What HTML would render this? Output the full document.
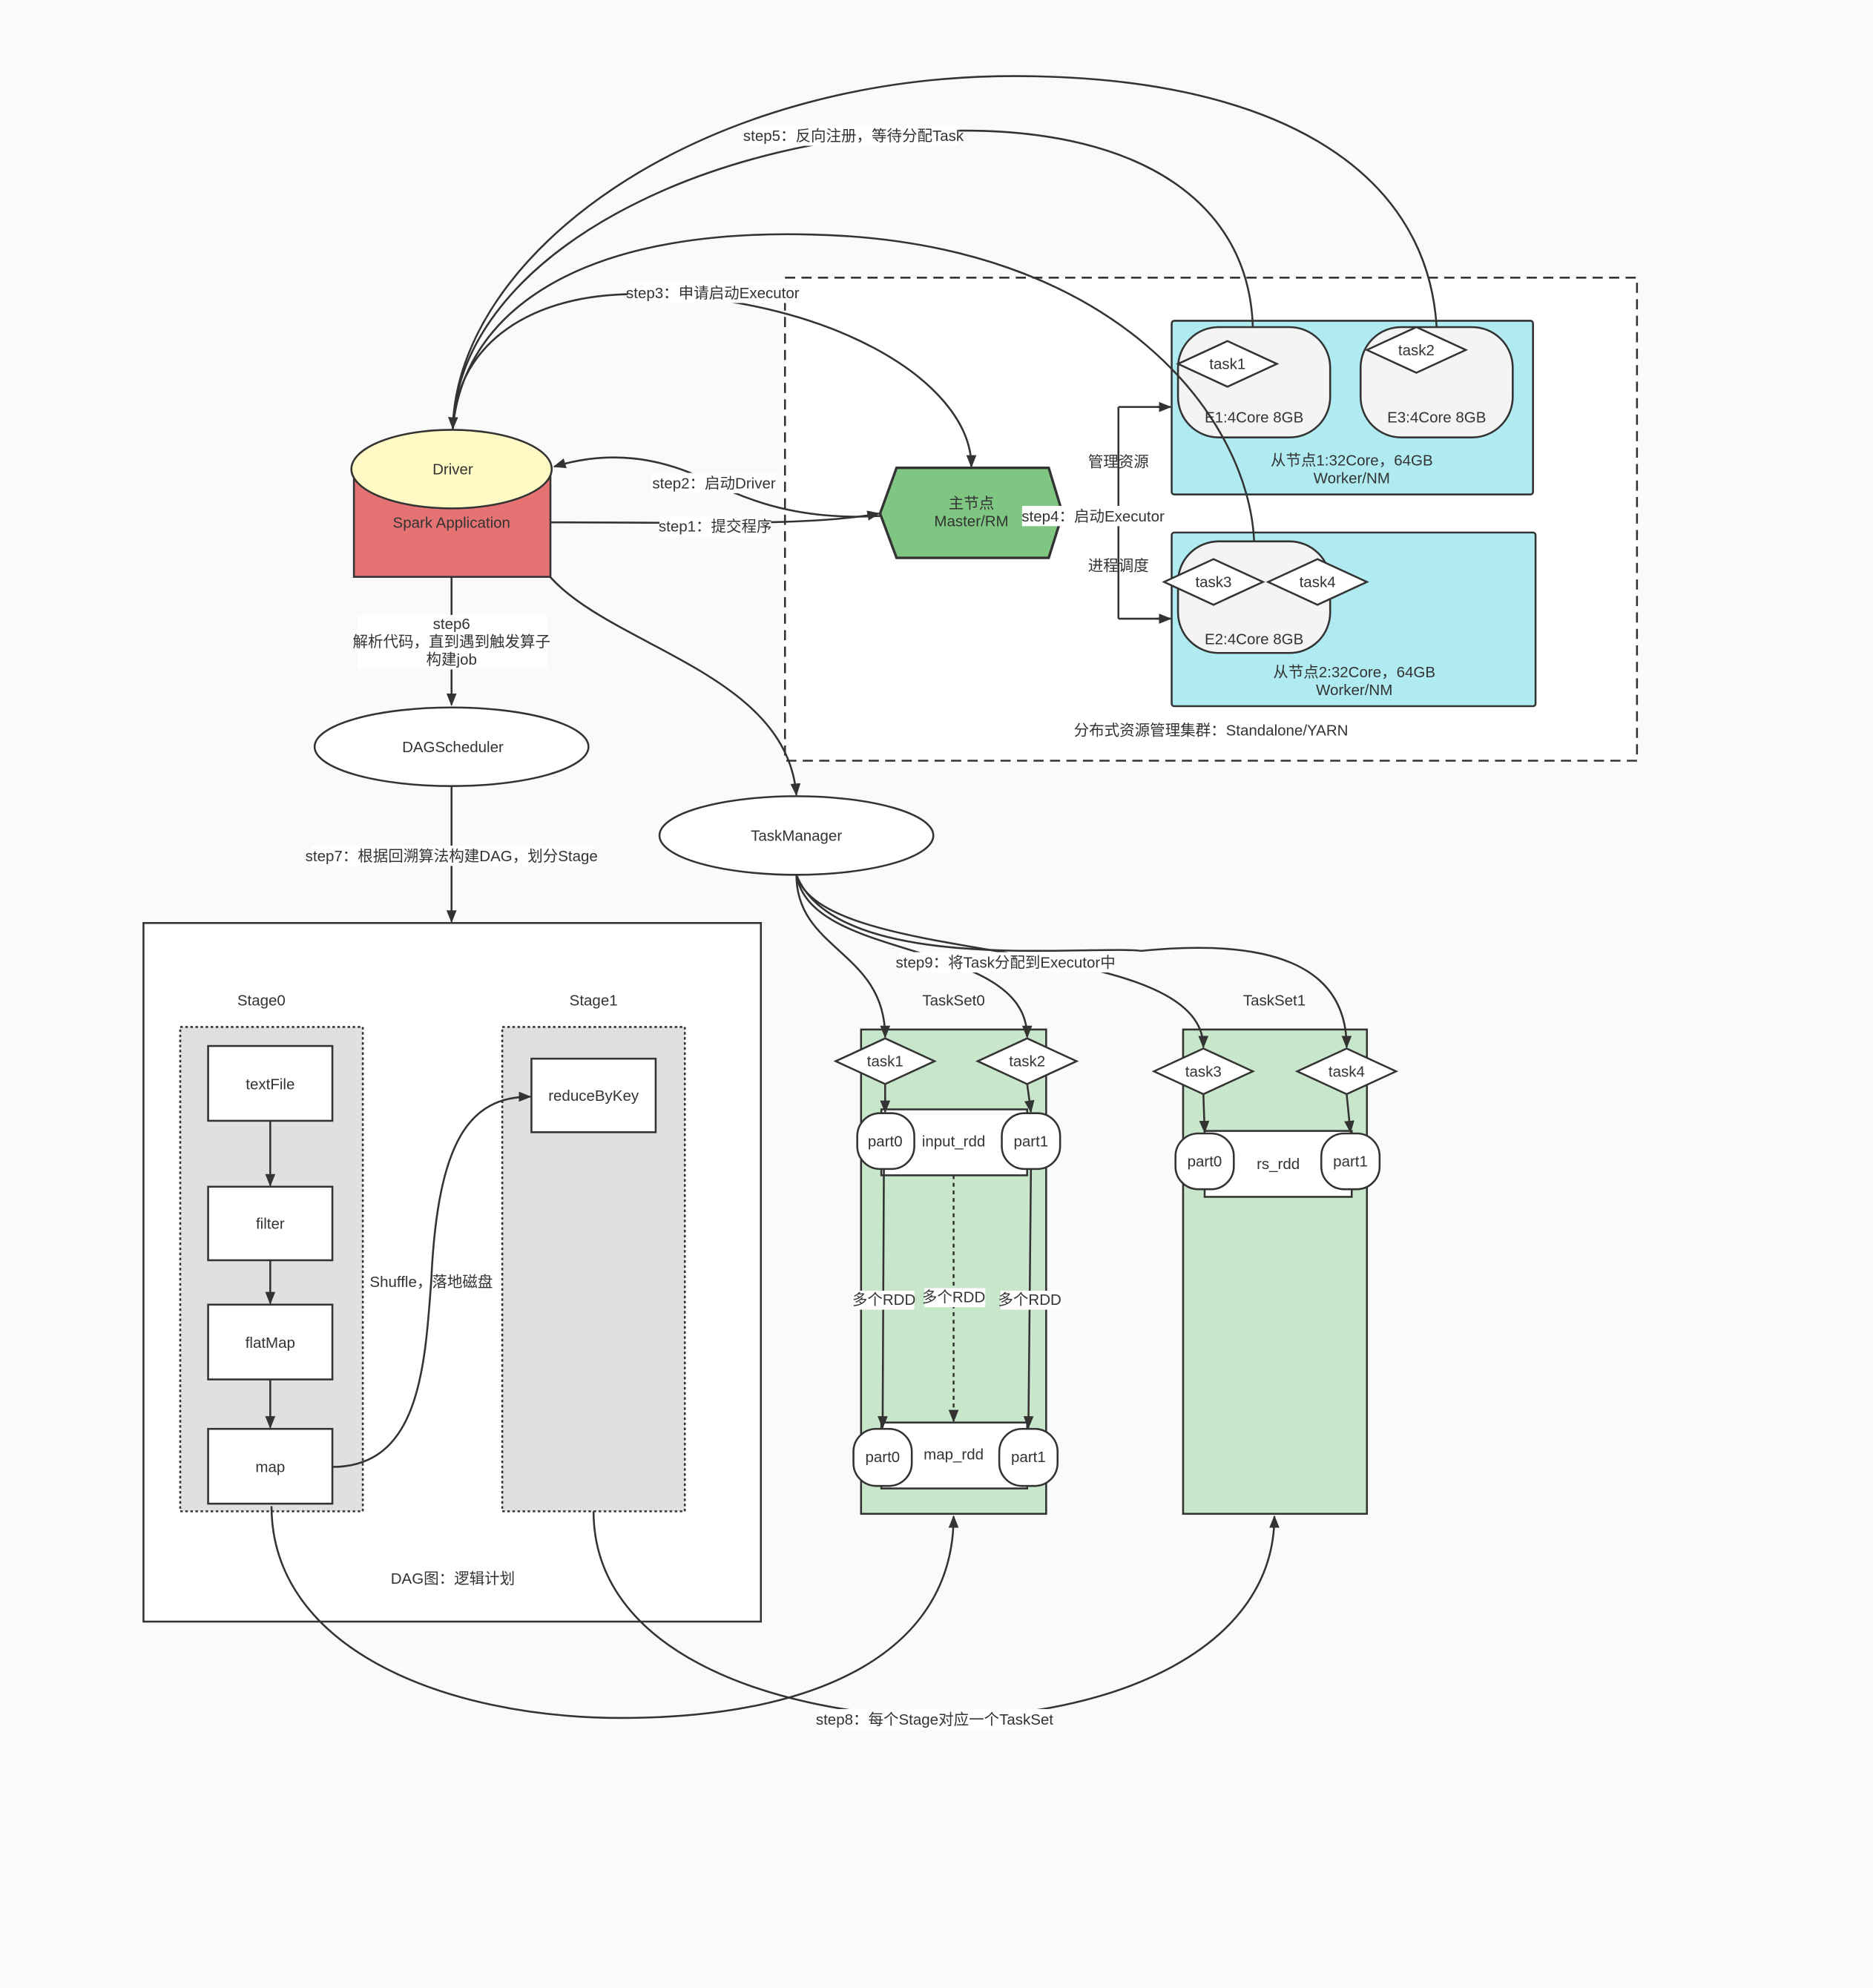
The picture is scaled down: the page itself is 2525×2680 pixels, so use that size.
<!DOCTYPE html>
<html><head><meta charset="utf-8"><style>html,body{margin:0;padding:0;background:#fafafa}svg{display:block}text{font-family:"Liberation Sans","Noto Sans CJK SC",sans-serif;font-size:12px;fill:#333;text-anchor:middle;dominant-baseline:middle}</style></head><body>
<svg width="2525" height="2680" viewBox="0 0 1477 1568" xmlns="http://www.w3.org/2000/svg">
<defs><marker id="a" markerWidth="10" markerHeight="10" refX="9" refY="5" orient="auto" markerUnits="userSpaceOnUse"><path d="M0,1 L10,5 L0,9 Z" fill="#333"/></marker></defs>
<rect width="1477" height="1568" fill="#fafafa"/>
<rect x="619" y="219" width="672" height="381" fill="#fff" stroke="#333" stroke-width="1.5" stroke-dasharray="8,5"/>
<rect x="924" y="253" width="285" height="137" rx="2" fill="#b0ebf2" stroke="#333" stroke-width="1.5"/>
<rect x="924" y="420" width="287" height="137" rx="2" fill="#b0ebf2" stroke="#333" stroke-width="1.5"/>
<rect x="929" y="258" width="120" height="87" rx="32" fill="#f4f4f4" stroke="#333" stroke-width="1.5"/>
<rect x="1073" y="258" width="120" height="87" rx="32" fill="#f4f4f4" stroke="#333" stroke-width="1.5"/>
<rect x="929" y="427" width="120" height="88" rx="32" fill="#f4f4f4" stroke="#333" stroke-width="1.5"/>
<text x="989" y="330">E1:4Core 8GB</text><text x="1133" y="330">E3:4Core 8GB</text><text x="989" y="505">E2:4Core 8GB</text>
<text x="1066" y="364">从节点1:32Core，64GB</text><text x="1066" y="378">Worker/NM</text>
<text x="1068" y="531">从节点2:32Core，64GB</text><text x="1068" y="545">Worker/NM</text>
<text x="955" y="577">分布式资源管理集群：Standalone/YARN</text>
<g fill="none" stroke="#333" stroke-width="1.5">
<path d="M1133,258 C1125,130 1000,60 800,60 C550,60 360,200 357,338" marker-end="url(#a)"/>
<path d="M988,258 C985,160 900,103 760,103 C560,103 362,200 357,338"/>
<path d="M989,427 C985,330 880,190 640,185 C450,180 365,250 357,338"/>
<path d="M357,338 C360,270 420,232 500,232 C650,232 766,300 766,368" marker-end="url(#a)"/>
<path d="M694,407 C640,410 600,400 560,380 C520,360 480,355 437,368" marker-end="url(#a)"/>
<path d="M434,412 C550,412 640,415 693,405" marker-end="url(#a)"/>
<path d="M838,405 L882,405 M882,321 L882,488 M882,321 L923,321 M882,488 L923,488"/>
<path d="M912,321 L923,321" marker-end="url(#a)"/><path d="M912,488 L923,488" marker-end="url(#a)"/>
<path d="M432,453 C480,510 620,530 628,627" marker-end="url(#a)"/>
<path d="M356,455 L356,556" marker-end="url(#a)"/>
<path d="M356,620 L356,727" marker-end="url(#a)"/>
</g>
<g fill="#fff" stroke="#333" stroke-width="1.5">
<polygon points="929,287 968,269 1007,287 968,305"/>
<polygon points="1078,276 1117,258 1156,276 1117,294"/>
<polygon points="918,459 957,441 996,459 957,477"/>
<polygon points="1000,459 1039,441 1078,459 1039,477"/>
</g>
<text x="968" y="288">task1</text><text x="1117" y="277">task2</text><text x="957" y="460">task3</text><text x="1039" y="460">task4</text>
<polygon points="694,405 707,369 827,369 838,405 827,440 707,440" fill="#7fc682" stroke="#333" stroke-width="2"/>
<text x="766" y="398">主节点</text><text x="766" y="412">Master/RM</text>
<rect x="279" y="370" width="155" height="85" fill="#e57373" stroke="#333" stroke-width="1.5"/>
<ellipse cx="356" cy="370" rx="79" ry="31" fill="#fff9c4" stroke="#333" stroke-width="1.5"/>
<text x="357" y="371">Driver</text><text x="356" y="413">Spark Application</text>
<g fill="#fff"><rect x="590" y="99" width="166" height="16"/><rect x="495" y="223" width="133" height="16"/><rect x="514" y="373" width="98" height="16"/><rect x="520" y="407" width="88" height="16"/><rect x="806" y="399" width="112" height="16"/><rect x="282" y="485" width="150" height="43"/><rect x="245" y="667" width="222" height="16"/><rect x="292" y="1003" width="96" height="16"/></g>
<text x="673" y="108">step5：反向注册，等待分配Task</text>
<text x="562" y="232">step3：申请启动Executor</text>
<text x="563" y="382">step2：启动Driver</text>
<text x="564" y="416">step1：提交程序</text>
<text x="862" y="408">step4：启动Executor</text>
<text x="882" y="365">管理资源</text><text x="882" y="447">进程调度</text>
<text x="356" y="493">step6</text><text x="356" y="507">解析代码，直到遇到触发算子</text><text x="356" y="521">构建job</text>
<ellipse cx="356" cy="589" rx="108" ry="31" fill="#fff" stroke="#333" stroke-width="1.5"/><text x="357" y="590">DAGScheduler</text>
<ellipse cx="628" cy="659" rx="108" ry="31" fill="#fff" stroke="#333" stroke-width="1.5"/><text x="628" y="660">TaskManager</text>
<text x="356" y="676">step7：根据回溯算法构建DAG，划分Stage</text>
<rect x="113" y="728" width="487" height="551" fill="#fff" stroke="#333" stroke-width="1.5"/>
<text x="206" y="790">Stage0</text><text x="468" y="790">Stage1</text><text x="357" y="1246">DAG图：逻辑计划</text>
<rect x="142" y="810" width="144" height="382" fill="#e0e0e0" stroke="#333" stroke-width="1.5" stroke-dasharray="2,2"/>
<rect x="396" y="810" width="144" height="382" fill="#e0e0e0" stroke="#333" stroke-width="1.5" stroke-dasharray="2,2"/>
<g fill="#fff" stroke="#333" stroke-width="1.5">
<rect x="164" y="825" width="98" height="59"/><rect x="164" y="936" width="98" height="58"/><rect x="164" y="1029" width="98" height="59"/><rect x="164" y="1127" width="98" height="59"/><rect x="419" y="835" width="98" height="58"/>
</g>
<text x="213" y="856">textFile</text><text x="213" y="966">filter</text><text x="213" y="1060">flatMap</text><text x="213" y="1158">map</text><text x="468" y="865">reduceByKey</text>
<g fill="none" stroke="#333" stroke-width="1.5">
<path d="M213,884 L213,935" marker-end="url(#a)"/><path d="M213,994 L213,1028" marker-end="url(#a)"/><path d="M213,1088 L213,1126" marker-end="url(#a)"/>
<path d="M262,1157 C330,1157 335,1080 340,1010 C345,900 370,865 418,865" marker-end="url(#a)"/>
</g>
<text x="340" y="1012">Shuffle，落地磁盘</text>
<rect x="679" y="812" width="146" height="382" fill="#c8e6c9" stroke="#333" stroke-width="1.5"/>
<rect x="933" y="812" width="145" height="382" fill="#c8e6c9" stroke="#333" stroke-width="1.5"/>
<text x="752" y="790">TaskSet0</text><text x="1005" y="790">TaskSet1</text>
<g fill="none" stroke="#333" stroke-width="1.5">
<path d="M628,690 C628,750 698,750 698,818" marker-end="url(#a)"/>
<path d="M628,690 C640,760 810,740 810,818" marker-end="url(#a)"/>
<path d="M628,690 C650,765 949,735 949,826" marker-end="url(#a)"/>
<path d="M628,690 C660,770 860,745 900,750 C1000,740 1062,760 1062,826" marker-end="url(#a)"/>
<path d="M214,1188 C214,1300 350,1355 490,1355 C650,1355 752,1300 752,1196" marker-end="url(#a)"/>
<path d="M468,1192 C468,1300 600,1350 737,1355 C880,1355 1005,1300 1005,1196" marker-end="url(#a)"/>
</g>
<g fill="#fff"><rect x="709" y="751" width="168" height="16"/><rect x="646" y="1348" width="182" height="16"/></g>
<text x="793" y="760">step9：将Task分配到Executor中</text>
<text x="737" y="1357">step8：每个Stage对应一个TaskSet</text>
<g fill="#fff" stroke="#333" stroke-width="1.5">
<rect x="695" y="875" width="115" height="52"/><rect x="695" y="1122" width="115" height="52"/><rect x="950" y="892" width="116" height="52"/>
<rect x="676" y="878" width="45" height="44" rx="18"/><rect x="790" y="878" width="46" height="44" rx="18"/>
<rect x="673" y="1127" width="46" height="45" rx="18"/><rect x="788" y="1127" width="46" height="45" rx="18"/>
<rect x="927" y="894" width="46" height="44" rx="18"/><rect x="1042" y="894" width="46" height="44" rx="18"/>
<polygon points="659,837 698,819 737,837 698,855"/><polygon points="771,837 810,819 849,837 810,855"/>
<polygon points="910,845 949,827 988,845 949,863"/><polygon points="1023,845 1062,827 1101,845 1062,863"/>
</g>
<g fill="none" stroke="#333" stroke-width="1.5">
<path d="M698,855 L698,877" marker-end="url(#a)"/><path d="M810,855 L813,877" marker-end="url(#a)"/>
<path d="M949,863 L950,893" marker-end="url(#a)"/><path d="M1062,863 L1065,893" marker-end="url(#a)"/>
<path d="M697,922 L696,1126" marker-end="url(#a)"/><path d="M813,922 L811,1126" marker-end="url(#a)"/>
<path d="M752,927 L752,1121" stroke-dasharray="3,3" marker-end="url(#a)"/>
</g>
<g fill="#fff"><rect x="673" y="1018" width="48" height="15"/><rect x="729" y="1016" width="48" height="15"/><rect x="789" y="1018" width="48" height="15"/></g>
<text x="697" y="1026">多个RDD</text><text x="752" y="1024">多个RDD</text><text x="812" y="1026">多个RDD</text>
<text x="698" y="838">task1</text><text x="810" y="838">task2</text><text x="949" y="846">task3</text><text x="1062" y="846">task4</text>
<text x="698" y="901">part0</text><text x="752" y="901">input_rdd</text><text x="813" y="901">part1</text>
<text x="696" y="1150">part0</text><text x="752" y="1148">map_rdd</text><text x="811" y="1150">part1</text>
<text x="950" y="917">part0</text><text x="1008" y="919">rs_rdd</text><text x="1065" y="917">part1</text>
</svg>
</body></html>
